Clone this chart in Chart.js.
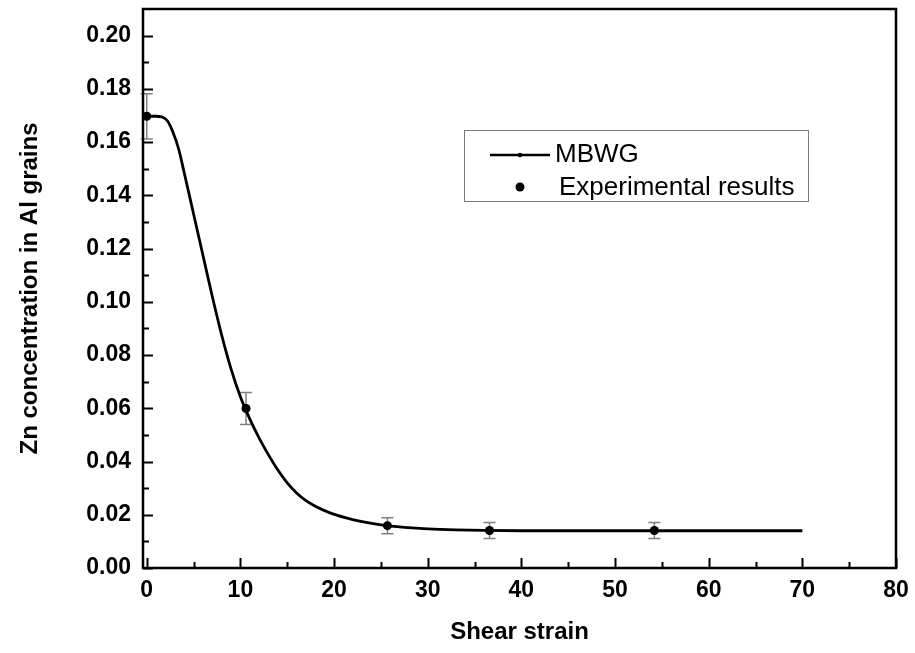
<!DOCTYPE html>
<html>
<head>
<meta charset="utf-8">
<script src="https://cdn.jsdelivr.net/npm/chart.js@4"></script>
<style>
  html, body { margin: 0; padding: 0; background: #fff; }
  #wrap { width: 915px; height: 653px; }
</style>
</head>
<body>
<div id="wrap"><canvas id="chart" width="915" height="653"></canvas></div>
<script>
// courbe MBWG
const curveX = [0, 1, 1.6, 2.2, 2.8, 3.4, 4, 5, 6, 7, 8, 9, 10, 11, 12, 13, 14, 15, 16, 17, 18, 19.5, 21.3, 23, 25, 27.5, 30, 33, 36, 40, 50, 60, 70];
const curveY = [0.1697, 0.1697, 0.1695, 0.168, 0.1637, 0.1575, 0.1485, 0.133, 0.1175, 0.102, 0.0875, 0.0748, 0.0643, 0.056, 0.0488, 0.0425, 0.0368, 0.032, 0.0282, 0.0253, 0.0232, 0.0208, 0.0188, 0.0174, 0.0162, 0.0153, 0.0147, 0.0143, 0.0141, 0.014, 0.014, 0.014, 0.014];

// points expérimentaux + barres d'erreur
const expX = [0, 10.6, 25.7, 36.6, 54.2];
const expY = [0.1697, 0.0599, 0.0159, 0.0141, 0.0141];
const expErr = [0.0085, 0.006, 0.003, 0.003, 0.003];

// graduations
const xTicks = [0, 5, 10, 15, 20, 25, 30, 35, 40, 45, 50, 55, 60, 65, 70, 75, 80];
const xLabels = ['0', '', '10', '', '20', '', '30', '', '40', '', '50', '', '60', '', '70', '', '80'];
const yTicks = [0, 0.01, 0.02, 0.03, 0.04, 0.05, 0.06, 0.07, 0.08, 0.09, 0.10, 0.11, 0.12, 0.13, 0.14, 0.15, 0.16, 0.17, 0.18, 0.19, 0.20];
const yLabels = ['0.00', '', '0.02', '', '0.04', '', '0.06', '', '0.08', '', '0.10', '', '0.12', '', '0.14', '', '0.16', '', '0.18', '', '0.20'];

const legendLabels = ['MBWG', 'Experimental results'];

const FONT = "'Liberation Sans', Arial, sans-serif";

// barres d'erreur grises
const errorBars = {
    id: 'errorBars',
    beforeDatasetsDraw(chart) {
        const ctx = chart.ctx;
        const x = chart.scales.x, y = chart.scales.y;
        ctx.save();
        ctx.strokeStyle = '#808080';
        ctx.lineWidth = 1.5;
        expX.forEach((vx, i) => {
            const px = x.getPixelForValue(vx);
            const top = y.getPixelForValue(expY[i] + expErr[i]);
            const bot = y.getPixelForValue(expY[i] - expErr[i]);
            ctx.beginPath();
            ctx.moveTo(px, top); ctx.lineTo(px, bot);
            ctx.moveTo(px - 6, top); ctx.lineTo(px + 6, top);
            ctx.moveTo(px - 6, bot); ctx.lineTo(px + 6, bot);
            ctx.stroke();
        });
        ctx.restore();
    }
};

// cadre + graduations vers l'intérieur + légende
const frame = {
    id: 'frame',
    afterDraw(chart) {
        const ctx = chart.ctx;
        const a = chart.chartArea;
        const x = chart.scales.x, y = chart.scales.y;
        ctx.save();
        ctx.strokeStyle = '#000';
        ctx.lineWidth = 2.5;
        ctx.strokeRect(a.left, a.top, a.right - a.left, a.bottom - a.top);
        ctx.lineWidth = 2;
        ctx.beginPath();
        xTicks.forEach((v, i) => {
            const px = Math.round(x.getPixelForValue(v)) + 0.5;
            const len = xLabels[i] ? 10 : 6;
            ctx.moveTo(px, a.bottom); ctx.lineTo(px, a.bottom - len);
        });
        yTicks.forEach((v, i) => {
            const py = Math.round(y.getPixelForValue(v)) + 0.5;
            const len = yLabels[i] ? 10 : 6;
            ctx.moveTo(a.left, py); ctx.lineTo(a.left + len, py);
        });
        ctx.stroke();

        // légende
        const lx = a.left + 321, ly = a.top + 121;
        ctx.lineWidth = 1;
        ctx.strokeStyle = '#7a7a7a';
        ctx.strokeRect(lx + 0.5, ly + 0.5, 344, 71);
        ctx.strokeStyle = '#000';
        ctx.lineWidth = 2.5;
        ctx.beginPath();
        ctx.moveTo(lx + 26, ly + 25); ctx.lineTo(lx + 86, ly + 25);
        ctx.stroke();
        ctx.fillStyle = '#000';
        ctx.beginPath(); ctx.arc(lx + 56, ly + 25, 2.2, 0, Math.PI * 2); ctx.fill();
        ctx.beginPath(); ctx.arc(lx + 56, ly + 57, 4.5, 0, Math.PI * 2); ctx.fill();
        ctx.font = '26px ' + FONT;
        ctx.textBaseline = 'middle';
        ctx.textAlign = 'left';
        ctx.fillText(legendLabels[0], lx + 91, ly + 25);
        ctx.fillText(legendLabels[1], lx + 95, ly + 58);
        ctx.restore();
    }
};

new Chart(document.getElementById('chart').getContext('2d'), {
    type: 'scatter',
    data: {
        datasets: [{
            label: legendLabels[0],
            data: curveX.map((v, i) => ({ x: v, y: curveY[i] })),
            showLine: true,
            borderColor: '#000',
            borderWidth: 2.8,
            pointRadius: 0,
            cubicInterpolationMode: 'monotone',
            order: 2
        }, {
            label: legendLabels[1],
            data: expX.map((v, i) => ({ x: v, y: expY[i] })),
            pointRadius: 4.5,
            backgroundColor: '#000',
            borderColor: '#000',
            borderWidth: 0,
            order: 1
        }]
    },
    options: {
        responsive: false,
        animation: false,
        layout: { padding: { top: 9, right: 19, left: 0, bottom: 0 } },
        plugins: { legend: { display: false }, tooltip: { enabled: false } },
        scales: {
            x: {
                type: 'linear',
                min: -0.4,
                max: 80,
                afterBuildTicks: s => { s.ticks = xTicks.map(v => ({ value: v })); },
                afterFit: s => { s.height = 85; s.paddingLeft = 0; s.paddingRight = 0; },
                grid: { display: false, drawTicks: false },
                border: { display: false },
                ticks: {
                    autoSkip: false, maxRotation: 0, padding: 9, color: '#000',
                    font: { family: FONT, size: 23, weight: 'bold' },
                    callback: (v, i) => xLabels[i]
                },
                title: {
                    display: true, text: 'Shear strain', color: '#000',
                    font: { family: FONT, size: 24, weight: 'bold' },
                    padding: { top: 6, bottom: 6 }
                }
            },
            y: {
                min: 0,
                max: 0.21,
                afterBuildTicks: s => { s.ticks = yTicks.map(v => ({ value: v })); },
                afterFit: s => { s.width = 143; s.paddingTop = 0; s.paddingBottom = 0; },
                grid: { display: false, drawTicks: false },
                border: { display: false },
                ticks: {
                    autoSkip: false, padding: 12, color: '#000',
                    font: { family: FONT, size: 23, weight: 'bold' },
                    callback: (v, i) => yLabels[i]
                },
                title: {
                    display: true, text: 'Zn concentration in Al grains', color: '#000',
                    font: { family: FONT, size: 24, weight: 'bold' },
                    padding: { top: 16, bottom: 16 }
                }
            }
        }
    },
    plugins: [errorBars, frame]
});
</script>
</body>
</html>
